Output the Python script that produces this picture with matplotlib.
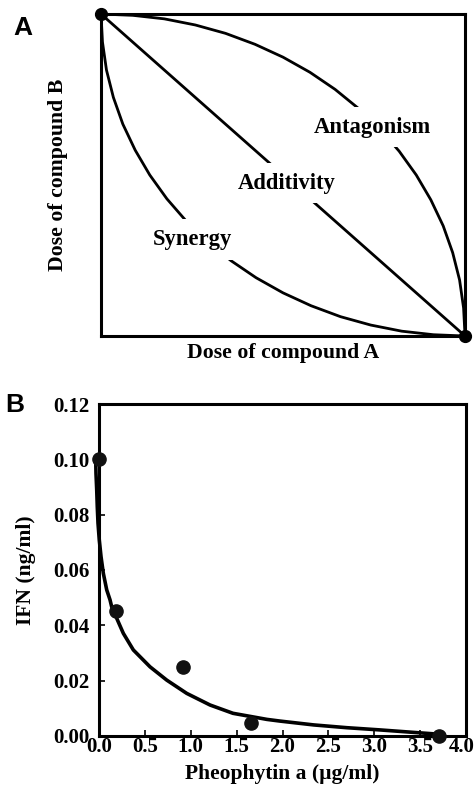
import matplotlib.pyplot as plt
from matplotlib.transforms import ScaledTranslation
import numpy as np

plt.rcParams['font.family'] = ['Liberation Serif', 'DejaVu Serif']
plt.rcParams['font.weight'] = 'bold'

# panel A: schematic isobologram (normalised doses)
corner_x = [0.0, 1.0]
corner_y = [1.0, 0.0]
antag_x = [0.0, 0.087, 0.174, 0.259, 0.342, 0.423, 0.5, 0.574, 0.643, 0.707,
           0.766, 0.819, 0.866, 0.906, 0.940, 0.966, 0.985, 0.996, 1.0]
antag_y = [1.0, 0.996, 0.985, 0.966, 0.940, 0.906, 0.866, 0.819, 0.766, 0.707,
           0.643, 0.574, 0.5, 0.423, 0.342, 0.259, 0.174, 0.087, 0.0]
syn_x = [0.0, 0.004, 0.015, 0.034, 0.060, 0.094, 0.134, 0.181, 0.234, 0.293,
         0.357, 0.426, 0.5, 0.577, 0.658, 0.741, 0.826, 0.913, 1.0]
syn_y = [1.0, 0.913, 0.826, 0.741, 0.658, 0.577, 0.5, 0.426, 0.357, 0.293,
         0.234, 0.181, 0.134, 0.094, 0.060, 0.034, 0.015, 0.004, 0.0]

# panel B: IFN vs pheophytin a
pheo = [0.0, 0.18, 0.91, 1.66, 3.71]
ifn = [0.100, 0.045, 0.025, 0.0048, 0.0]
fit_x = [-0.036, -0.033, -0.025, -0.019, -0.011, 0.003, 0.022, 0.047, 0.084, 0.12,
         0.138, 0.20, 0.265, 0.374, 0.556, 0.738, 0.956, 1.21, 1.46, 1.83,
         1.97, 2.34, 2.70, 3.06, 3.43, 3.68]
fit_y = [0.100, 0.0949, 0.0889, 0.0829, 0.0769, 0.0708, 0.0648, 0.0588, 0.0528, 0.0492,
         0.0467, 0.0420, 0.0371, 0.0311, 0.0250, 0.0202, 0.0154, 0.0112, 0.0082, 0.0060,
         0.0054, 0.0040, 0.0030, 0.0022, 0.0013, 0.0007]

fig = plt.figure(figsize=(4.74, 7.88), dpi=100)

# ---- panel A
ax1 = fig.add_axes([0.2131, 0.5736, 0.768, 0.4086])
ax1.plot(antag_x, antag_y, color='black', lw=2.0, zorder=2)
ax1.plot(syn_x, syn_y, color='black', lw=2.0, zorder=2)
ax1.plot(corner_x, corner_y, color='black', lw=2.0, zorder=2)
ax1.plot(corner_x, corner_y, 'o', color='black', ms=8.5, clip_on=False, zorder=5)
ax1.set_xlim(0, 1)
ax1.set_ylim(0, 1)
ax1.set_xticks([])
ax1.set_yticks([])
for s in ax1.spines.values():
    s.set_linewidth(2.2)
box = dict(facecolor='white', edgecolor='none', pad=7)
ax1.text(0.745, 0.649, 'Antagonism', fontsize=16.3, ha='center', va='center', bbox=box, zorder=4)
ax1.text(0.51, 0.475, 'Additivity', fontsize=16.3, ha='center', va='center', bbox=box, zorder=4)
ax1.text(0.25, 0.30, 'Synergy', fontsize=16.3, ha='center', va='center', bbox=box, zorder=4)
ax1.set_xlabel('Dose of compound A', fontsize=15.7, fontweight='bold', labelpad=5)
ax1.set_ylabel('Dose of compound B', fontsize=15.7, fontweight='bold', labelpad=24)
fig.text(0.048, 0.965, 'A', fontsize=19, fontweight='bold', family='Liberation Sans', ha='center', va='center')

# ---- panel B
ax2 = fig.add_axes([0.2089, 0.066, 0.7743, 0.4213])
ax2.plot(fit_x, fit_y, color='black', lw=2.6, zorder=2, clip_on=False, solid_capstyle='round')
ax2.plot(pheo, ifn, 'o', color='#111111', ms=9.5, clip_on=False, zorder=3)
ax2.set_xlim(0, 4.0)
ax2.set_ylim(0, 0.12)
ax2.set_xticks(np.arange(0, 4.01, 0.5))
ax2.set_xticklabels(['0.0', '0.5', '1.0', '1.5', '2.0', '2.5', '3.0', '3.5', '4.0'])
ax2.set_yticks(np.arange(0, 0.121, 0.02))
ax2.set_yticklabels(['0.00', '0.02', '0.04', '0.06', '0.08', '0.10', '0.12'])
ax2.tick_params(direction='in', length=4, width=1.2, labelsize=15)
ax2.tick_params(axis='x', pad=1)
ax2.tick_params(axis='y', pad=7)
for s in ax2.spines.values():
    s.set_linewidth(2.2)
last = ax2.get_xticklabels()[-1]
last.set_transform(last.get_transform() + ScaledTranslation(-3 / 72, 0, fig.dpi_scale_trans))
ax2.set_xlabel('Pheophytin a (\u00b5g/ml)', fontsize=15.5, fontweight='bold', labelpad=5)
ax2.set_ylabel('IFN (ng/ml)', fontsize=15.5, fontweight='bold', labelpad=12)
fig.text(0.032, 0.486, 'B', fontsize=19, fontweight='bold', family='Liberation Sans', ha='center', va='center')

fig.savefig('out.png', dpi=100)
